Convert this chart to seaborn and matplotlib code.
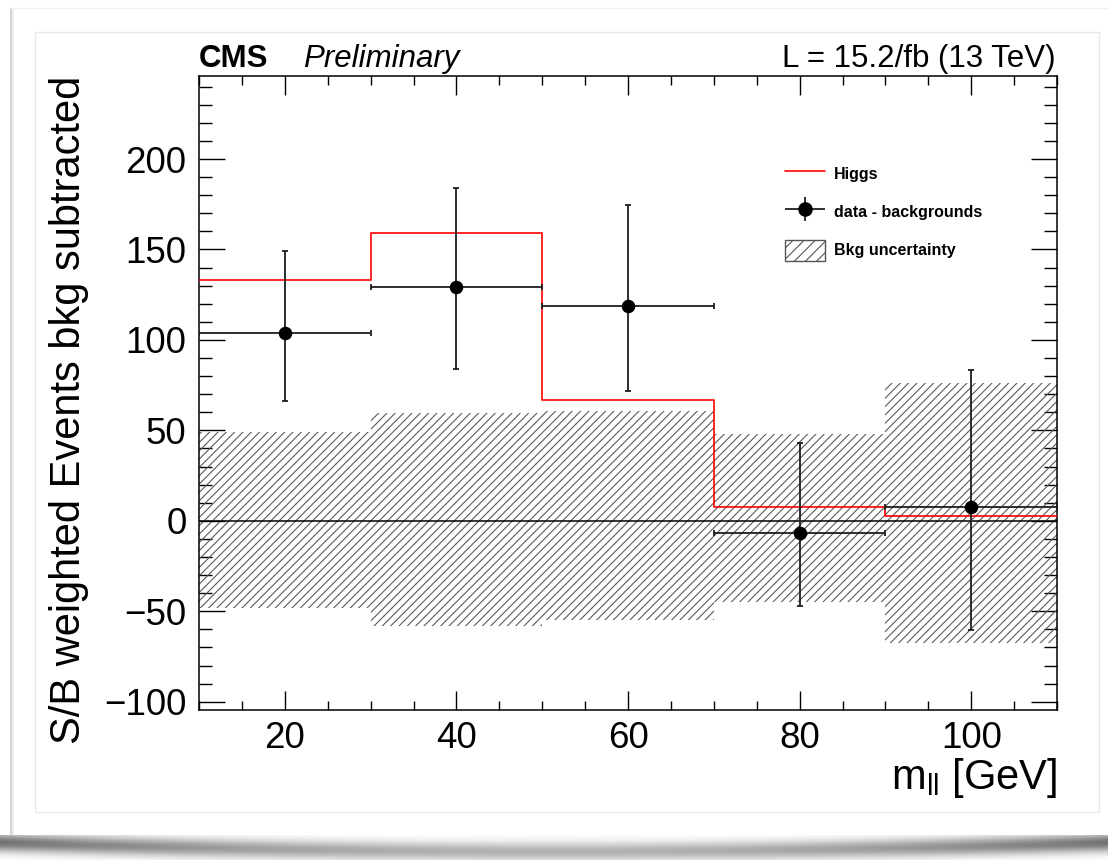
import numpy as np
import matplotlib
matplotlib.use("Agg")
import matplotlib.pyplot as plt
import seaborn as sns
from matplotlib.lines import Line2D
from matplotlib.patches import Patch, Rectangle
from matplotlib.ticker import MultipleLocator
from matplotlib.container import ErrorbarContainer
from matplotlib.legend_handler import HandlerErrorbar

# ---- data ----
bin_edges = [10, 30, 50, 70, 90, 110]
bin_centers = [20, 40, 60, 80, 100]
higgs = [133, 159, 67, 7.4, 2.8]
data_minus_bkg = [103.6, 129.1, 118.7, -6.6, 7.4]
data_err_up = [45.5, 54.8, 55.9, 49.4, 75.9]
data_err_down = [37.2, 45.4, 47.0, 40.4, 67.8]
bkg_unc_up = [49.2, 59.4, 60.5, 47.8, 76.0]
bkg_unc_down = [48.4, 58.1, 55.0, 44.8, 67.5]
xtick_values = [20, 40, 60, 80, 100]
ytick_values = [-100, -50, 0, 50, 100, 150, 200]

sns.set_style("ticks")
plt.rcParams["font.family"] = ["Liberation Sans", "DejaVu Sans"]
plt.rcParams["mathtext.fontset"] = "custom"
plt.rcParams["mathtext.rm"] = "Liberation Sans"
plt.rcParams["hatch.linewidth"] = 0.8
for key in ["text.color", "axes.labelcolor", "xtick.color", "ytick.color",
            "xtick.labelcolor", "ytick.labelcolor"]:
    plt.rcParams[key] = "black"

W, H = 1108, 860
fig = plt.figure(figsize=(W / 100, H / 100), dpi=100, facecolor="white")

# ---- card background with soft shadow ----
bg = fig.add_axes([0, 0, 1, 1], zorder=-10)
bg.set_xlim(0, W)
bg.set_ylim(H, 0)
bg.axis("off")
xs = np.arange(W)
ys = np.arange(835, H)
u = (xs - W / 2) / (W / 2)
yc = 842 + 9 * (1 - u ** 2)
amp = 0.55 - 0.25 * (1 - u ** 2)
dark = amp[None, :] * np.exp(-((ys[:, None] - yc[None, :]) / 9.0) ** 2)
shade = 1 - dark
bg.imshow(np.dstack([shade, shade, shade]), extent=(0, W, H, 835),
          aspect="auto", interpolation="bilinear", zorder=0)
for i, c in enumerate(["#c8c8c8", "#dcdcdc", "#ececec"]):
    bg.add_patch(Rectangle((11 + i, 8), 0.0001, 827, lw=1.2, edgecolor=c, facecolor="none"))
bg.plot([11, 1108], [8, 8], color="#f0f0f0", lw=1)
bg.add_patch(Rectangle((35, 32), 1064, 780, lw=1, edgecolor="#e8e8e8", facecolor="none"))

# ---- main axes ----
ax = fig.add_axes([199 / W, 1 - 710 / H, 858 / W, 634 / H])
ax.set_facecolor("white")

# background uncertainty band
ax.bar(bin_centers, np.add(bkg_unc_up, bkg_unc_down), bottom=-np.array(bkg_unc_down),
       width=20, color="none", edgecolor="#5a5a5a", hatch="////", linewidth=0, zorder=1)

ax.axhline(0, color="black", lw=1.1, zorder=2)

# expected Higgs signal as a step histogram
sns.histplot(x=bin_centers, weights=higgs, bins=bin_edges, element="step", fill=False,
             color="#ff0000", linewidth=1.2, ax=ax, zorder=3)

# data minus backgrounds
ax.errorbar(bin_centers, data_minus_bkg, xerr=10, yerr=[data_err_down, data_err_up],
            fmt="none", ecolor="#1e1e1e", elinewidth=1.3, capsize=2.3, capthick=1.3, zorder=4)
sns.scatterplot(x=bin_centers, y=data_minus_bkg, color="black", s=95, linewidth=0,
                ax=ax, zorder=5, legend=False)

# legend-only handle for the data points (no caps)
eb_leg = ax.errorbar([np.nan], [np.nan], xerr=1, yerr=1, fmt="o", color="black",
                     ecolor="#1e1e1e", ms=9.5, elinewidth=1.3, capsize=0)

ax.set_xlim(10, 110)
ax.set_ylim(-104.6, 245.9)
ax.set_xticks(xtick_values)
ax.set_yticks(ytick_values)
ax.xaxis.set_minor_locator(MultipleLocator(5))
ax.yaxis.set_minor_locator(MultipleLocator(10))
for s in ax.spines.values():
    s.set_visible(True)
    s.set_linewidth(1.1)
    s.set_color("black")
ax.tick_params(axis="both", which="both", direction="in", color="black", width=1.0,
               top=True, right=True, labelsize=26.5, labelcolor="black")
ax.tick_params(axis="y", which="major", length=18.5, pad=9)
ax.tick_params(axis="y", which="minor", length=9.4)
ax.tick_params(axis="x", which="major", length=13.7, pad=8)
ax.tick_params(axis="x", which="minor", length=6.8)

ax.set_ylabel("S/B weighted Events bkg subtracted", fontsize=30, loc="top", color="black")
ax.yaxis.set_label_coords(-0.128, 1.0)
ax.set_xlabel(r"m$_{\mathregular{ll}}$ [GeV]", fontsize=30, loc="right", color="black")
ax.xaxis.set_label_coords(1.0, -0.072)

ax.text(0.0, 1.0142, "CMS", transform=ax.transAxes, fontsize=22.5, fontweight="bold",
        ha="left", va="baseline", color="black")
ax.text(0.121, 1.0142, "Preliminary", transform=ax.transAxes, fontsize=22.5, style="italic",
        ha="left", va="baseline", color="black")
ax.text(0.998, 1.0142, "L = 15.2/fb (13 TeV)", transform=ax.transAxes, fontsize=22.5,
        ha="right", va="baseline", color="black")

# legend
h_higgs = Line2D([], [], color="#ff0000", lw=1.2)
h_bkg = Patch(facecolor="white", edgecolor="#555555", hatch="///", lw=1.0)
leg = ax.legend([h_higgs, eb_leg, h_bkg], ["Higgs", "data - backgrounds", "Bkg uncertainty"],
                loc="upper left", bbox_to_anchor=(0.683, 0.863), frameon=False,
                prop={"weight": "bold", "size": 11.5}, handlelength=2.5, handleheight=1.7,
                handletextpad=0.55, labelspacing=1.05, borderpad=0, borderaxespad=0,
                labelcolor="black",
                handler_map={ErrorbarContainer: HandlerErrorbar(xerr_size=1.25, yerr_size=0.75)})

fig.savefig("out.png", dpi=100, facecolor="white")
